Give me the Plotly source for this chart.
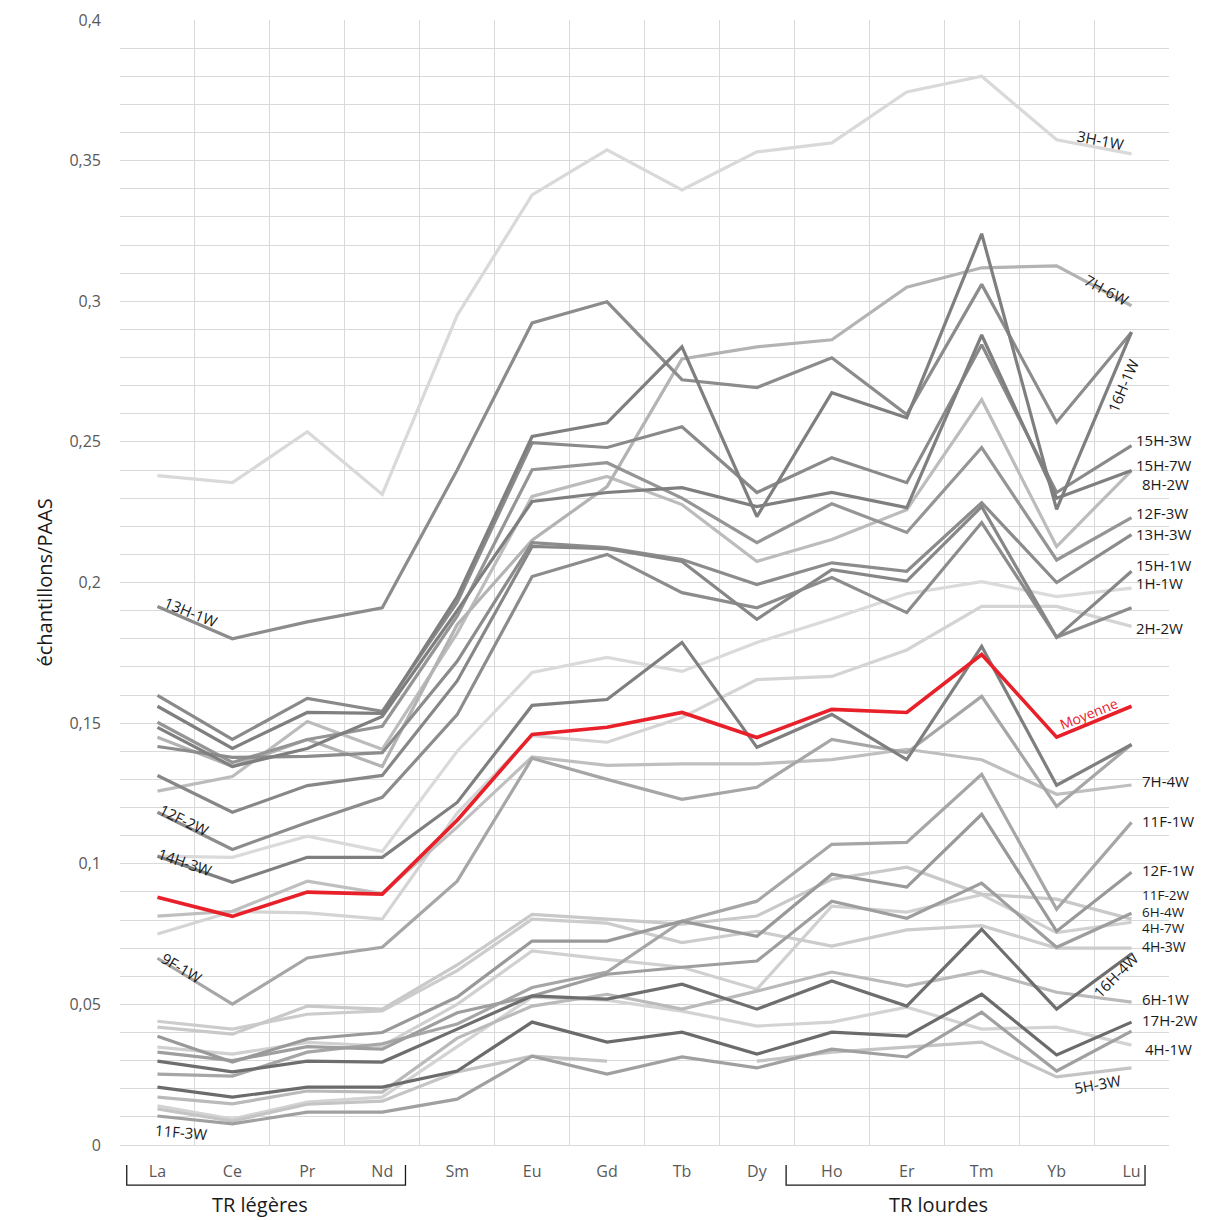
import plotly.graph_objects as go

# Rare earth elements (x categories)
elements = ["La", "Ce", "Pr", "Nd", "Sm", "Eu", "Gd", "Tb", "Dy", "Ho", "Er", "Tm", "Yb", "Lu"]

# y axis ticks
y_ticks = [0, 0.05, 0.1, 0.15, 0.2, 0.25, 0.3, 0.35, 0.4]
y_tick_text = ["0", "0,05", "0,1", "0,15", "0,2", "0,25", "0,3", "0,35", "0,4"]

# sample / PAAS values
s_3H_1W = [0.238, 0.2355, 0.2536, 0.2313, 0.295, 0.3378, 0.3538, 0.3396, 0.3531, 0.3563, 0.3744, 0.380, 0.3574, 0.3524]
s_13H_1W = [0.1915, 0.180, 0.186, 0.191, 0.240, 0.2923, 0.2998, 0.2721, 0.2693, 0.2799, 0.2597, 0.306, 0.257, 0.289]
s_7H_6W = [0.145, 0.1346, 0.1442, 0.1346, 0.185, 0.215, 0.2341, 0.2795, 0.2838, 0.2863, 0.305, 0.3119, 0.3126, 0.2984]
s_16H_1W = [0.156, 0.141, 0.1538, 0.1535, 0.195, 0.2519, 0.2568, 0.2838, 0.2234, 0.2675, 0.2586, 0.324, 0.226, 0.289]
s_15H_3W = [0.1599, 0.1442, 0.1588, 0.1542, 0.193, 0.2497, 0.248, 0.2554, 0.232, 0.2444, 0.2355, 0.2845, 0.232, 0.2487]
s_15H_7W = [0.1485, 0.1346, 0.141, 0.1524, 0.190, 0.2288, 0.232, 0.2337, 0.227, 0.232, 0.2266, 0.288, 0.230, 0.2398]
s_12F_3W = [0.1503, 0.136, 0.1442, 0.1489, 0.188, 0.2401, 0.2426, 0.230, 0.2142, 0.228, 0.2178, 0.248, 0.208, 0.2231]
s_8H_2W = [0.1258, 0.131, 0.1506, 0.1407, 0.182, 0.2306, 0.2377, 0.2277, 0.2075, 0.2153, 0.2259, 0.265, 0.2128, 0.2398]
s_13H_3W = [0.1417, 0.1378, 0.1382, 0.1395, 0.172, 0.2142, 0.2124, 0.2082, 0.1993, 0.207, 0.204, 0.2284, 0.200, 0.217]
s_15H_1W = [0.1314, 0.1183, 0.1278, 0.1314, 0.165, 0.2128, 0.212, 0.2075, 0.1869, 0.2046, 0.2005, 0.227, 0.1805, 0.204]
s_12F_2W = [0.1183, 0.1051, 0.1147, 0.1236, 0.153, 0.2021, 0.210, 0.1964, 0.191, 0.2018, 0.1893, 0.2213, 0.1805, 0.191]
s_1H_1W = [0.1027, 0.1023, 0.1098, 0.1044, 0.140, 0.168, 0.1734, 0.1684, 0.1787, 0.187, 0.196, 0.2003, 0.195, 0.198]
s_2H_2W = [0.075, 0.083, 0.0825, 0.0803, 0.118, 0.1455, 0.1432, 0.152, 0.1655, 0.1666, 0.176, 0.1915, 0.1915, 0.1844]
s_14H_3W = [0.1027, 0.0934, 0.1023, 0.1023, 0.1218, 0.1563, 0.1584, 0.1787, 0.1414, 0.1531, 0.137, 0.1773, 0.1279, 0.1424]
s_9F_1W = [0.0664, 0.0501, 0.0665, 0.0703, 0.0938, 0.1375, 0.130, 0.1229, 0.1272, 0.1442, 0.1395, 0.1595, 0.1204, 0.1424]
s_7H_4W = [0.0814, 0.0831, 0.0938, 0.0894, 0.113, 0.138, 0.135, 0.1355, 0.1355, 0.137, 0.1407, 0.137, 0.1247, 0.128]
s_11F_2W = [0.0419, 0.0394, 0.0494, 0.0483, 0.064, 0.082, 0.0803, 0.0785, 0.0814, 0.0945, 0.0988, 0.0892, 0.0874, 0.0803]
s_4H_3W = [0.044, 0.0412, 0.0465, 0.0477, 0.062, 0.0803, 0.0789, 0.072, 0.0760, 0.0707, 0.0765, 0.078, 0.070, 0.070]
s_12F_1W = [0.0387, 0.0295, 0.0377, 0.040, 0.0526, 0.0725, 0.0725, 0.0796, 0.0742, 0.0963, 0.0917, 0.1176, 0.076, 0.097]
s_4H_7W = [0.0348, 0.0323, 0.0365, 0.0352, 0.050, 0.069, 0.066, 0.0632, 0.0554, 0.0849, 0.0828, 0.089, 0.0755, 0.0792]
s_6H_4W = [0.033, 0.030, 0.035, 0.0341, 0.047, 0.053, 0.0607, 0.0632, 0.0654, 0.0867, 0.0806, 0.0931, 0.0703, 0.0824]
s_16H_4W = [0.0298, 0.026, 0.0298, 0.0295, 0.0412, 0.053, 0.0519, 0.0572, 0.0483, 0.0583, 0.0494, 0.0767, 0.0483, 0.068]
s_11F_1W = [0.0252, 0.0245, 0.033, 0.036, 0.043, 0.056, 0.0615, 0.0796, 0.0867, 0.1069, 0.1076, 0.1318, 0.0838, 0.1147]
s_6H_1W = [0.017, 0.0146, 0.0192, 0.0188, 0.038, 0.0494, 0.0536, 0.0483, 0.0547, 0.0615, 0.0565, 0.0618, 0.0543, 0.0508]
s_17H_2W = [0.0206, 0.017, 0.0206, 0.0206, 0.0263, 0.0437, 0.0366, 0.0401, 0.0323, 0.0401, 0.0387, 0.0536, 0.032, 0.0437]
s_4H_1W = [0.0139, 0.0092, 0.0153, 0.017, 0.035, 0.0526, 0.0515, 0.0476, 0.0423, 0.0437, 0.049, 0.0412, 0.0419, 0.0355]
s_5H_3W = [0.0128, 0.0085, 0.0145, 0.0156, 0.026, 0.0316, 0.0298, None, 0.0298, 0.033, 0.0348, 0.0366, 0.0242, 0.0274]
s_11F_3W = [0.0103, 0.0075, 0.0117, 0.0117, 0.0163, 0.0316, 0.0252, 0.0313, 0.0274, 0.0341, 0.0313, 0.0472, 0.0263, 0.0405]
moyenne = [0.0881, 0.0813, 0.0899, 0.0892, 0.1155, 0.146, 0.1485, 0.1538, 0.1449, 0.1549, 0.1538, 0.1744, 0.145, 0.156]

# drawing order: light greys first, darker ones on top
series = [
    ("3H-1W", s_3H_1W, "#d9d9d9"),
    ("1H-1W", s_1H_1W, "#dadada"),
    ("2H-2W", s_2H_2W, "#d4d4d4"),
    ("4H-1W", s_4H_1W, "#d3d3d3"),
    ("4H-7W", s_4H_7W, "#d0d0d0"),
    ("4H-3W", s_4H_3W, "#cccccc"),
    ("11F-2W", s_11F_2W, "#c9c9c9"),
    ("5H-3W", s_5H_3W, "#c4c4c4"),
    ("7H-4W", s_7H_4W, "#bfbfbf"),
    ("8H-2W", s_8H_2W, "#bcbcbc"),
    ("6H-1W", s_6H_1W, "#bababa"),
    ("7H-6W", s_7H_6W, "#b3b3b3"),
    ("9F-1W", s_9F_1W, "#a6a6a6"),
    ("11F-1W", s_11F_1W, "#a6a6a6"),
    ("11F-3W", s_11F_3W, "#a0a0a0"),
    ("6H-4W", s_6H_4W, "#9e9e9e"),
    ("12F-1W", s_12F_1W, "#999999"),
    ("12F-3W", s_12F_3W, "#959595"),
    ("13H-1W", s_13H_1W, "#8c8c8c"),
    ("13H-3W", s_13H_3W, "#8c8c8c"),
    ("12F-2W", s_12F_2W, "#8c8c8c"),
    ("15H-3W", s_15H_3W, "#8a8a8a"),
    ("15H-1W", s_15H_1W, "#878787"),
    ("15H-7W", s_15H_7W, "#7f7f7f"),
    ("16H-1W", s_16H_1W, "#7f7f7f"),
    ("14H-3W", s_14H_3W, "#7f7f7f"),
    ("16H-4W", s_16H_4W, "#6e6e6e"),
    ("17H-2W", s_17H_2W, "#6b6b6b"),
]

fig = go.Figure()
for name, vals, col in series:
    fig.add_trace(go.Scatter(x=elements, y=vals, mode="lines", name=name,
                             line=dict(color=col, width=3.2), hoverinfo="name+y"))
fig.add_trace(go.Scatter(x=elements, y=moyenne, mode="lines", name="Moyenne",
                         line=dict(color="#e8202a", width=3.6)))

FONT = "Open Sans"

# labels: (text, x index, y value, angle, anchor, size)
line_labels = [
    ("13H-1W", 0.45, 0.1895, 22, "center", 15),
    ("12F-2W", 0.36, 0.1155, 26, "center", 15),
    ("14H-3W", 0.37, 0.1005, 19, "center", 15),
    ("9F-1W", 0.33, 0.0630, 31, "center", 15),
    ("11F-3W", 0.31, 0.0045, 5, "center", 15),
    ("3H-1W", 12.59, 0.3573, 11, "center", 15),
    ("7H-6W", 12.67, 0.3040, 28, "center", 15),
    ("16H-1W", 12.88, 0.2700, -67, "center", 15),
    ("15H-3W", 13.03, 0.2507, 0, "left", 15),
    ("15H-7W", 13.03, 0.2418, 0, "left", 15),
    ("8H-2W", 13.11, 0.2350, 0, "left", 15),
    ("12F-3W", 13.03, 0.2247, 0, "left", 15),
    ("13H-3W", 13.03, 0.2172, 0, "left", 15),
    ("15H-1W", 13.03, 0.2062, 0, "left", 15),
    ("1H-1W", 13.03, 0.1998, 0, "left", 15),
    ("2H-2W", 13.03, 0.1838, 0, "left", 15),
    ("7H-4W", 13.11, 0.1294, 0, "left", 15),
    ("11F-1W", 13.11, 0.1152, 0, "left", 15),
    ("12F-1W", 13.11, 0.0978, 0, "left", 15),
    ("11F-2W", 13.11, 0.0888, 0, "left", 13.5),
    ("6H-4W", 13.11, 0.0828, 0, "left", 13.5),
    ("4H-7W", 13.11, 0.0770, 0, "left", 13.5),
    ("4H-3W", 13.11, 0.0706, 0, "left", 14),
    ("16H-4W", 12.79, 0.0604, -45, "center", 15),
    ("6H-1W", 13.11, 0.0519, 0, "left", 15),
    ("17H-2W", 13.11, 0.0444, 0, "left", 15),
    ("4H-1W", 13.15, 0.0341, 0, "left", 15),
    ("5H-3W", 12.54, 0.0217, -10, "center", 15),
]
for text, xi, yv, ang, anc, sz in line_labels:
    fig.add_annotation(x=xi, y=yv, xref="x", yref="y", text=text, showarrow=False,
                       textangle=ang, xanchor=anc, yanchor="middle",
                       font=dict(size=sz, color="#1a1a1a", family=FONT))
fig.add_annotation(x=12.43, y=0.1536, xref="x", yref="y", text="Moyenne", showarrow=False,
                   textangle=-22, font=dict(size=14, color="#e8202a", family=FONT))

# element group brackets below the axis
for x0, x1 in [(-0.41, 3.31), (8.39, 13.18)]:
    fig.add_shape(type="path", xref="x", yref="paper",
                  path=f"M {x0},-0.0178 L {x0},-0.0356 L {x1},-0.0356 L {x1},-0.0178",
                  line=dict(color="#1a1a1a", width=1.3))
fig.add_annotation(x=1.37, y=-0.0533, xref="x", yref="paper", text="TR légères", showarrow=False,
                   yanchor="middle", font=dict(size=20, color="#1a1a1a", family=FONT))
fig.add_annotation(x=10.43, y=-0.0533, xref="x", yref="paper", text="TR lourdes", showarrow=False,
                   yanchor="middle", font=dict(size=20, color="#1a1a1a", family=FONT))
fig.add_annotation(x=-0.0715, y=0.5, xref="paper", yref="paper", text="échantillons/PAAS",
                   showarrow=False, textangle=-90, xanchor="center", yanchor="middle",
                   font=dict(size=20, color="#1a1a1a", family=FONT))

fig.update_xaxes(type="category", categoryorder="array", categoryarray=elements,
                 range=[-0.5, 13.5], tickson="boundaries", showgrid=True, automargin=False,
                 gridcolor="#d9d9d9", gridwidth=1, ticks="", ticklabelstandoff=12,
                 tickfont=dict(size=16, color="#595959", family=FONT),
                 showline=True, linecolor="#d9d9d9", zeroline=False)
fig.update_yaxes(range=[0, 0.4], tickvals=y_ticks, ticktext=y_tick_text, automargin=False,
                 showgrid=True, gridcolor="#d9d9d9", gridwidth=1,
                 minor=dict(dtick=0.01, showgrid=True, gridcolor="#d9d9d9", gridwidth=1),
                 ticks="", ticklabelstandoff=18, zeroline=False,
                 tickfont=dict(size=16, color="#595959", family=FONT))
fig.update_layout(width=1208, height=1220, showlegend=False,
                  plot_bgcolor="white", paper_bgcolor="white",
                  margin=dict(l=120, r=39, t=20, b=75, autoexpand=False),
                  font=dict(family=FONT))
# drop the default 8px page margin so the figure fills the window exactly
fig.write_html("out.html", config={"displayModeBar": False},
               post_script="document.body.style.margin='0px';document.body.style.overflow='hidden';")
